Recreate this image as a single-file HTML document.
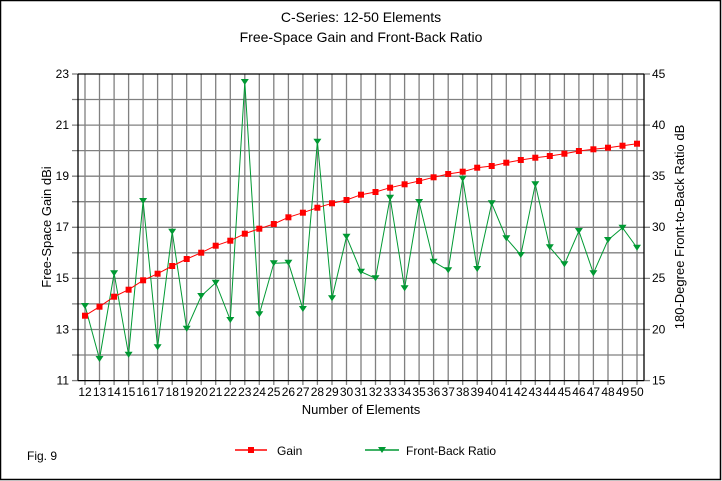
<!DOCTYPE html>
<html><head><meta charset="utf-8"><style>
html,body{margin:0;padding:0;background:#fff;}
svg{display:block;font-family:"Liberation Sans",Arial,sans-serif;}
</style></head><body>
<svg width="722" height="481" viewBox="0 0 722 481" xmlns="http://www.w3.org/2000/svg">
<rect x="0" y="0" width="722" height="481" fill="#fff"/>
<rect x="0.5" y="0.5" width="720" height="479" fill="none" stroke="#000" stroke-width="1.5"/>
<text x="361" y="22" font-size="14" text-anchor="middle">C-Series: 12-50 Elements</text>
<text x="361" y="42" font-size="14" text-anchor="middle">Free-Space Gain and Front-Back Ratio</text>
<g stroke="#808080" stroke-width="1.3">
<line x1="72" y1="99.5" x2="644" y2="99.5"/><line x1="72" y1="125.1" x2="650" y2="125.1"/><line x1="72" y1="150.6" x2="644" y2="150.6"/><line x1="72" y1="176.2" x2="650" y2="176.2"/><line x1="72" y1="201.7" x2="644" y2="201.7"/><line x1="72" y1="227.3" x2="650" y2="227.3"/><line x1="72" y1="252.8" x2="644" y2="252.8"/><line x1="72" y1="278.4" x2="650" y2="278.4"/><line x1="72" y1="303.9" x2="644" y2="303.9"/><line x1="72" y1="329.5" x2="650" y2="329.5"/><line x1="72" y1="355" x2="644" y2="355"/>
<line x1="72" y1="74" x2="78" y2="74"/><line x1="72" y1="380.6" x2="78" y2="380.6"/><line x1="644" y1="74" x2="650" y2="74"/><line x1="644" y1="380.6" x2="650" y2="380.6"/>
<line x1="85" y1="74" x2="85" y2="385"/><line x1="99.5" y1="74" x2="99.5" y2="385"/><line x1="114.1" y1="74" x2="114.1" y2="385"/><line x1="128.6" y1="74" x2="128.6" y2="385"/><line x1="143.1" y1="74" x2="143.1" y2="385"/><line x1="157.6" y1="74" x2="157.6" y2="385"/><line x1="172.2" y1="74" x2="172.2" y2="385"/><line x1="186.7" y1="74" x2="186.7" y2="385"/><line x1="201.2" y1="74" x2="201.2" y2="385"/><line x1="215.7" y1="74" x2="215.7" y2="385"/><line x1="230.3" y1="74" x2="230.3" y2="385"/><line x1="244.8" y1="74" x2="244.8" y2="385"/><line x1="259.3" y1="74" x2="259.3" y2="385"/><line x1="273.8" y1="74" x2="273.8" y2="385"/><line x1="288.4" y1="74" x2="288.4" y2="385"/><line x1="302.9" y1="74" x2="302.9" y2="385"/><line x1="317.4" y1="74" x2="317.4" y2="385"/><line x1="332" y1="74" x2="332" y2="385"/><line x1="346.5" y1="74" x2="346.5" y2="385"/><line x1="361" y1="74" x2="361" y2="385"/><line x1="375.5" y1="74" x2="375.5" y2="385"/><line x1="390.1" y1="74" x2="390.1" y2="385"/><line x1="404.6" y1="74" x2="404.6" y2="385"/><line x1="419.1" y1="74" x2="419.1" y2="385"/><line x1="433.6" y1="74" x2="433.6" y2="385"/><line x1="448.2" y1="74" x2="448.2" y2="385"/><line x1="462.7" y1="74" x2="462.7" y2="385"/><line x1="477.2" y1="74" x2="477.2" y2="385"/><line x1="491.7" y1="74" x2="491.7" y2="385"/><line x1="506.3" y1="74" x2="506.3" y2="385"/><line x1="520.8" y1="74" x2="520.8" y2="385"/><line x1="535.3" y1="74" x2="535.3" y2="385"/><line x1="549.8" y1="74" x2="549.8" y2="385"/><line x1="564.4" y1="74" x2="564.4" y2="385"/><line x1="578.9" y1="74" x2="578.9" y2="385"/><line x1="593.4" y1="74" x2="593.4" y2="385"/><line x1="608" y1="74" x2="608" y2="385"/><line x1="622.5" y1="74" x2="622.5" y2="385"/><line x1="637" y1="74" x2="637" y2="385"/>
</g>
<g stroke="#000" stroke-width="1.3">
<line x1="78" y1="74" x2="644" y2="74"/><line x1="78" y1="380.6" x2="644" y2="380.6"/>
<line x1="78" y1="74" x2="78" y2="380.6"/><line x1="644" y1="74" x2="644" y2="380.6"/>
</g>
<g font-size="12" text-anchor="end">
<text x="69" y="78">23</text><text x="69" y="129">21</text><text x="69" y="180">19</text><text x="69" y="231">17</text><text x="69" y="282">15</text><text x="69" y="333.5">13</text><text x="69" y="384.5">11</text>
</g>
<g font-size="12" text-anchor="start">
<text x="652" y="78">45</text><text x="652" y="129">40</text><text x="652" y="180">35</text><text x="652" y="231">30</text><text x="652" y="282">25</text><text x="652" y="333.5">20</text><text x="652" y="384.5">15</text>
</g>
<g font-size="12" text-anchor="middle">
<text x="85" y="396">12</text><text x="99.5" y="396">13</text><text x="114.1" y="396">14</text><text x="128.6" y="396">15</text><text x="143.1" y="396">16</text><text x="157.6" y="396">17</text><text x="172.2" y="396">18</text><text x="186.7" y="396">19</text><text x="201.2" y="396">20</text><text x="215.7" y="396">21</text><text x="230.3" y="396">22</text><text x="244.8" y="396">23</text><text x="259.3" y="396">24</text><text x="273.8" y="396">25</text><text x="288.4" y="396">26</text><text x="302.9" y="396">27</text><text x="317.4" y="396">28</text><text x="332" y="396">29</text><text x="346.5" y="396">30</text><text x="361" y="396">31</text><text x="375.5" y="396">32</text><text x="390.1" y="396">33</text><text x="404.6" y="396">34</text><text x="419.1" y="396">35</text><text x="433.6" y="396">36</text><text x="448.2" y="396">37</text><text x="462.7" y="396">38</text><text x="477.2" y="396">39</text><text x="491.7" y="396">40</text><text x="506.3" y="396">41</text><text x="520.8" y="396">42</text><text x="535.3" y="396">43</text><text x="549.8" y="396">44</text><text x="564.4" y="396">45</text><text x="578.9" y="396">46</text><text x="593.4" y="396">47</text><text x="608" y="396">48</text><text x="622.5" y="396">49</text><text x="637" y="396">50</text>
</g>
<text x="361" y="414" font-size="13" text-anchor="middle">Number of Elements</text>
<text transform="translate(51,227) rotate(-90)" font-size="13" text-anchor="middle">Free-Space Gain dBi</text>
<text transform="translate(684,227) rotate(-90)" font-size="13" text-anchor="middle">180-Degree Front-to-Back Ratio dB</text>
<polyline fill="none" stroke="#009933" stroke-width="1" points="85,305.7 99.5,359 114.1,273.3 128.6,354.7 143.1,201 157.6,347.3 172.2,231.7 186.7,328.7 201.2,296 215.7,282.7 230.3,320 244.8,82 259.3,314.3 273.8,263.3 288.4,262.7 302.9,309 317.4,141.7 332,298.3 346.5,236.7 361,271.7 375.5,278.3 390.1,197.7 404.6,288.3 419.1,202 433.6,261.7 448.2,270.3 462.7,178.7 477.2,269 491.7,203.3 506.3,238.3 520.8,255 535.3,184.3 549.8,247.3 564.4,264.3 578.9,231 593.4,273.3 608,240 622.5,227.7 637,247.7"/>
<g fill="#009933">
<path d="M81,303h8l-4,6z" transform="translate(0,0)"/>
</g>
<g fill="#009933" id="tri">
<path d="M95.5,356h8l-4,6z"/><path d="M110.1,270.3h8l-4,6z"/><path d="M124.6,351.7h8l-4,6z"/><path d="M139.1,198h8l-4,6z"/><path d="M153.6,344.3h8l-4,6z"/><path d="M168.2,228.7h8l-4,6z"/><path d="M182.7,325.7h8l-4,6z"/><path d="M197.2,293h8l-4,6z"/><path d="M211.7,279.7h8l-4,6z"/><path d="M226.3,317h8l-4,6z"/><path d="M240.8,79h8l-4,6z"/><path d="M255.3,311.3h8l-4,6z"/><path d="M269.8,260.3h8l-4,6z"/><path d="M284.4,259.7h8l-4,6z"/><path d="M298.9,306h8l-4,6z"/><path d="M313.4,138.7h8l-4,6z"/><path d="M328,295.3h8l-4,6z"/><path d="M342.5,233.7h8l-4,6z"/><path d="M357,268.7h8l-4,6z"/><path d="M371.5,275.3h8l-4,6z"/><path d="M386.1,194.7h8l-4,6z"/><path d="M400.6,285.3h8l-4,6z"/><path d="M415.1,199h8l-4,6z"/><path d="M429.6,258.7h8l-4,6z"/><path d="M444.2,267.3h8l-4,6z"/><path d="M458.7,175.7h8l-4,6z"/><path d="M473.2,266h8l-4,6z"/><path d="M487.7,200.3h8l-4,6z"/><path d="M502.3,235.3h8l-4,6z"/><path d="M516.8,252h8l-4,6z"/><path d="M531.3,181.3h8l-4,6z"/><path d="M545.8,244.3h8l-4,6z"/><path d="M560.4,261.3h8l-4,6z"/><path d="M574.9,228h8l-4,6z"/><path d="M589.4,270.3h8l-4,6z"/><path d="M604,237h8l-4,6z"/><path d="M618.5,224.7h8l-4,6z"/><path d="M633,244.7h8l-4,6z"/>
</g>
<polyline fill="none" stroke="#ff0000" stroke-width="1" points="85,315.7 99.5,306.7 114.1,296.7 128.6,289.7 143.1,280.3 157.6,273.7 172.2,266 186.7,259 201.2,252.7 215.7,245.7 230.3,240.7 244.8,233.7 259.3,228.7 273.8,224 288.4,217.3 302.9,212.7 317.4,207.7 332,203.3 346.5,200 361,194.7 375.5,192 390.1,187.7 404.6,184.3 419.1,181 433.6,177.3 448.2,174 462.7,171.7 477.2,167.7 491.7,166 506.3,162.7 520.8,160 535.3,157.7 549.8,156 564.4,153.7 578.9,151 593.4,149.3 608,147.7 622.5,145.7 637,143.7"/>
<g fill="#ff0000">
<rect x="82" y="312.7" width="6" height="6"/><rect x="96.5" y="303.7" width="6" height="6"/><rect x="111.1" y="293.7" width="6" height="6"/><rect x="125.6" y="286.7" width="6" height="6"/><rect x="140.1" y="277.3" width="6" height="6"/><rect x="154.6" y="270.7" width="6" height="6"/><rect x="169.2" y="263" width="6" height="6"/><rect x="183.7" y="256" width="6" height="6"/><rect x="198.2" y="249.7" width="6" height="6"/><rect x="212.7" y="242.7" width="6" height="6"/><rect x="227.3" y="237.7" width="6" height="6"/><rect x="241.8" y="230.7" width="6" height="6"/><rect x="256.3" y="225.7" width="6" height="6"/><rect x="270.8" y="221" width="6" height="6"/><rect x="285.4" y="214.3" width="6" height="6"/><rect x="299.9" y="209.7" width="6" height="6"/><rect x="314.4" y="204.7" width="6" height="6"/><rect x="329" y="200.3" width="6" height="6"/><rect x="343.5" y="197" width="6" height="6"/><rect x="358" y="191.7" width="6" height="6"/><rect x="372.5" y="189" width="6" height="6"/><rect x="387.1" y="184.7" width="6" height="6"/><rect x="401.6" y="181.3" width="6" height="6"/><rect x="416.1" y="178" width="6" height="6"/><rect x="430.6" y="174.3" width="6" height="6"/><rect x="445.2" y="171" width="6" height="6"/><rect x="459.7" y="168.7" width="6" height="6"/><rect x="474.2" y="164.7" width="6" height="6"/><rect x="488.7" y="163" width="6" height="6"/><rect x="503.3" y="159.7" width="6" height="6"/><rect x="517.8" y="157" width="6" height="6"/><rect x="532.3" y="154.7" width="6" height="6"/><rect x="546.8" y="153" width="6" height="6"/><rect x="561.4" y="150.7" width="6" height="6"/><rect x="575.9" y="148" width="6" height="6"/><rect x="590.4" y="146.3" width="6" height="6"/><rect x="605" y="144.7" width="6" height="6"/><rect x="619.5" y="142.7" width="6" height="6"/><rect x="634" y="140.7" width="6" height="6"/>
</g>
<text x="27" y="460" font-size="12">Fig. 9</text>
<line x1="235" y1="450" x2="267" y2="450" stroke="#ff0000" stroke-width="1.5"/>
<rect x="248" y="447" width="6" height="6" fill="#ff0000"/>
<text x="277" y="455" font-size="12">Gain</text>
<line x1="365" y1="450" x2="399" y2="450" stroke="#009933" stroke-width="1.5"/>
<path d="M378,447h8l-4,6z" fill="#009933"/>
<text x="406" y="455" font-size="12">Front-Back Ratio</text>
</svg>
</body></html>
